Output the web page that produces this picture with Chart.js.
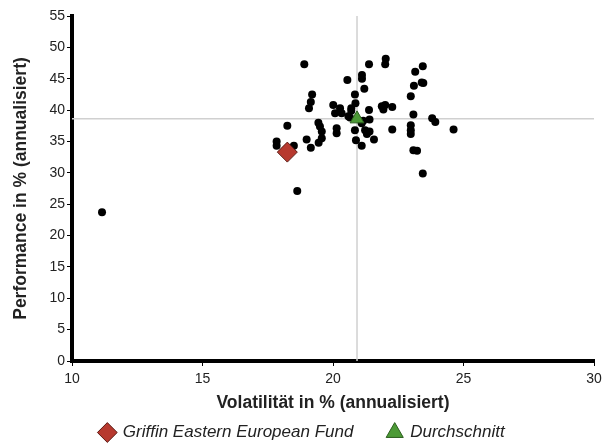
<!DOCTYPE html>
<html lang="de">
<head>
<meta charset="UTF-8">
<title>Risiko / Performance</title>
<script src="https://cdn.jsdelivr.net/npm/chart.js"></script>
<style>
  html, body { margin: 0; padding: 0; background: #fff; }
  #wrap { width: 616px; height: 446px; }
</style>
</head>
<body>
<div id="wrap"><canvas id="scatter" width="616" height="446"></canvas></div>
<script>
  // Vergleichsfonds: Volatilität (x) und Performance (y), in %
  const peerVol = [11.15, 17.84, 17.84, 18.25, 18.5, 18.63, 18.9, 18.99, 19.15, 19.08, 19.15, 19.2,
    19.44, 19.5, 19.57, 19.57, 19.45, 20.01, 20.08, 20.27, 20.33, 20.14, 20.14, 20.55, 20.59, 20.7,
    20.84, 20.86, 20.84, 20.88, 21.11, 21.11, 21.2, 21.1, 21.1, 21.16, 21.23, 21.3, 21.4, 21.4,
    21.38, 21.38, 21.57, 21.87, 21.93, 22.0, 22.02, 22.0, 22.27, 22.27, 22.98, 22.98, 22.98, 22.98,
    23.08, 23.1, 23.15, 23.08, 23.22, 23.44, 23.4, 23.46, 23.44, 23.8, 23.92, 24.62, 20.7, 20.65];
  const peerPerf = [23.7, 35.0, 34.3, 37.5, 34.3, 27.1, 47.3, 35.3, 34.0, 40.3, 41.3, 42.5,
    38.0, 37.4, 36.6, 35.5, 34.8, 40.8, 39.5, 40.3, 39.5, 37.1, 36.3, 44.8, 39.0, 39.9,
    42.5, 41.1, 36.8, 35.2, 45.6, 45.0, 43.4, 34.3, 37.9, 38.3, 36.8, 36.2, 36.6, 38.5,
    40.0, 47.3, 35.3, 40.6, 40.1, 40.8, 48.2, 47.3, 40.5, 36.9, 42.2, 37.6, 36.8, 36.2,
    39.3, 43.9, 46.1, 33.6, 33.5, 47.0, 44.4, 44.3, 29.9, 38.7, 38.1, 36.9, 40.3, 38.8];

  const fundName = 'Griffin Eastern European Fund';
  const fundPoint = [18.25, 33.3];
  const avgName = 'Durchschnitt';
  const avgPoint = [20.92, 38.6];

  const xTicks = [10, 15, 20, 25, 30];
  const yTicks = [0, 5, 10, 15, 20, 25, 30, 35, 40, 45, 50, 55];

  const peers = peerVol.map((v, i) => ({ x: v, y: peerPerf[i] }));

  const font = "'Liberation Sans', Arial, sans-serif";

  new Chart(document.getElementById('scatter'), {
    type: 'scatter',
    data: {
      datasets: [
        {
          label: fundName,
          data: [{ x: fundPoint[0], y: fundPoint[1] }],
          pointStyle: 'rectRot',
          pointRadius: 10,
          backgroundColor: '#b7392f',
          borderColor: '#5a1a14',
          borderWidth: 1
        },
        {
          label: avgName,
          data: [{ x: avgPoint[0], y: avgPoint[1] }],
          pointStyle: 'triangle',
          pointRadius: 8,
          backgroundColor: '#4c9a36',
          borderColor: '#2c5e1e',
          borderWidth: 1
        },
        {
          label: 'Fonds',
          data: peers,
          pointRadius: 4,
          backgroundColor: '#000',
          borderColor: '#000',
          borderWidth: 0
        },
        {
          label: 'avgX',
          type: 'line',
          data: [{ x: avgPoint[0], y: yTicks[0] }, { x: avgPoint[0], y: yTicks[yTicks.length - 1] }],
          borderColor: '#d0d0d0',
          borderWidth: 1.5,
          pointRadius: 0
        },
        {
          label: 'avgY',
          type: 'line',
          data: [{ x: xTicks[0], y: avgPoint[1] }, { x: xTicks[xTicks.length - 1], y: avgPoint[1] }],
          borderColor: '#d0d0d0',
          borderWidth: 1.5,
          pointRadius: 0
        }
      ]
    },
    options: {
      responsive: false,
      animation: false,
      layout: { padding: { left: 11, right: 22, top: 16, bottom: -5 } },
      scales: {
        x: {
          type: 'linear',
          min: xTicks[0],
          max: xTicks[xTicks.length - 1],
          afterBuildTicks: s => { s.ticks = xTicks.map(v => ({ value: v })); },
          grid: { drawOnChartArea: false, drawTicks: true, tickLength: 5, color: '#000', lineWidth: 1 },
          border: { display: true, color: '#000', width: 4 },
          ticks: { color: '#222', font: { family: font, size: 14 }, padding: 5, maxRotation: 0 },
          title: { display: true, text: 'Volatilität in % (annualisiert)', color: '#222',
                   font: { family: font, size: 17.5, weight: 'bold' }, padding: { top: 4, bottom: 4 } },
          afterFit: s => { s.height = 57; }
        },
        y: {
          type: 'linear',
          min: yTicks[0],
          max: yTicks[yTicks.length - 1],
          afterBuildTicks: s => { s.ticks = yTicks.map(v => ({ value: v })); },
          grid: { drawOnChartArea: false, drawTicks: true, tickLength: 5, color: '#000', lineWidth: 1 },
          border: { display: true, color: '#000', width: 4 },
          ticks: { color: '#222', font: { family: font, size: 14 }, padding: 2 },
          title: { display: true, text: 'Performance in % (annualisiert)', color: '#222',
                   font: { family: font, size: 17.5, weight: 'bold' }, padding: { top: 0, bottom: 4 } },
          afterFit: s => { s.width = 61; }
        }
      },
      plugins: {
        tooltip: { enabled: false },
        legend: {
          position: 'bottom',
          labels: {
            usePointStyle: true,
            boxWidth: 14,
            boxHeight: 14,
            padding: 6,
            color: '#222',
            font: { family: font, size: 17, style: 'italic' },
            generateLabels: chart => {
              const items = Chart.defaults.plugins.legend.labels.generateLabels(chart)
                .filter(it => it.datasetIndex < 2);
              // etwas mehr Abstand zwischen den beiden Einträgen
              items[0].text = items[0].text + '      ';
              return items;
            }
          }
        }
      }
    }
  });
</script>
</body>
</html>
